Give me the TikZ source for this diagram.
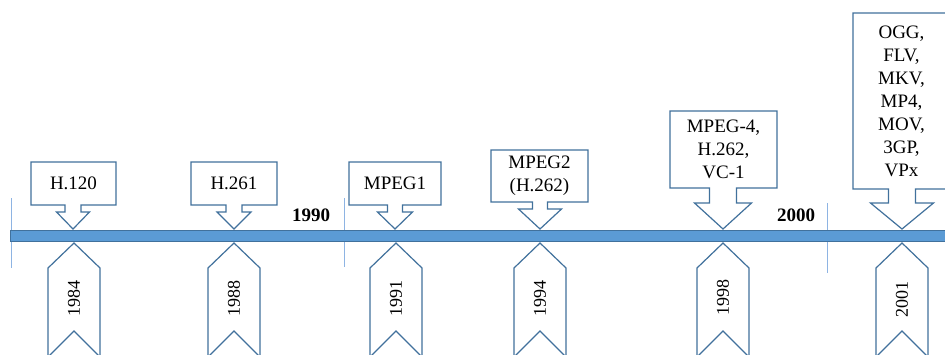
\documentclass[tikz,border=0pt]{standalone}
\usepackage{fontspec}
\setmainfont{Liberation Serif}
\definecolor{edgeblue}{HTML}{41719C}
\definecolor{barblue}{HTML}{5B9BD5}
\definecolor{tickblue}{HTML}{8EB4E3}
% callout: #1 cx, #2 left, #3 right, #4 top, #5 box bottom, #6 stem half, #7 head half, #8 stem bottom
\newcommand\downcallout[8]{%
  \draw[shapeline] (#2,#4) -- (#3,#4) -- (#3,#5) -- ({#1+#6},#5) -- ({#1+#6},#8) -- ({#1+#7},#8)
    -- (#1,229) -- ({#1-#7},#8) -- ({#1-#6},#8) -- ({#1-#6},#5) -- (#2,#5) -- cycle;}
\newcommand\yearchevron[1]{%
  \draw[shapeline] (#1,243) -- ({#1+26},268) -- ({#1+26},357) -- (#1,331) -- ({#1-26},357) -- ({#1-26},268) -- cycle;}
\begin{document}
\begin{tikzpicture}[x=1pt,y=-1pt,
  shapeline/.style={draw=edgeblue, line width=1.2pt, fill=white, line join=miter},
  lbl/.style={font=\fontsize{19}{23}\selectfont, align=center, inner sep=0pt, text=black},
  yr/.style={font=\fontsize{18}{22}\selectfont, inner sep=0pt, text=black, rotate=90},
  era/.style={font=\fontsize{19}{22}\selectfont\bfseries, inner sep=0pt},
  tick/.style={draw=tickblue, line width=0.8pt}]
\useasboundingbox (0,0) rectangle (945,354);
\clip (0,0) rectangle (945,354);
\fill[white] (0,0) rectangle (945,354);
% era ticks
\coordinate (k1a) at (11,198); \coordinate (k1b) at (11,268);
\coordinate (k2a) at (344,198); \coordinate (k2b) at (344,267);
\coordinate (k3a) at (827,203); \coordinate (k3b) at (827,273);
\draw[tick] (k1a) -- (k1b);
\draw[tick] (k2a) -- (k2b);
\draw[tick] (k3a) -- (k3b);
% axis bar
\draw[draw=edgeblue, fill=barblue, line width=0.8pt] (10,230) rectangle (960,241);
\node[era] (e1990) at (311,215) {1990};
\node[era] (e2000) at (796,215) {2000};
% callouts
\downcallout{73}{31}{116}{162}{205}{8}{16.5}{212}
\node[lbl] (c1) at (73.5,183.5) {H.120};
\downcallout{234}{191}{277}{162}{205}{8}{17}{212}
\node[lbl] (c2) at (234,183.5) {H.261};
\downcallout{395}{349}{441}{162}{205}{7.5}{17.5}{212}
\node[lbl] (c3) at (395,183.5) {MPEG1};
\downcallout{540}{491}{588}{150}{202}{7.5}{21.5}{209}
\node[lbl] (c4) at (539.5,176) {MPEG2\\(H.262)};
\downcallout{723}{670}{777}{111}{188}{13.5}{28.5}{203}
\node[lbl] (c5) at (723.5,149.5) {MPEG-4,\\H.262,\\VC-1};
\downcallout{902}{853}{951}{13}{189}{13.5}{31.5}{203}
\node[lbl] (c6) at (901.5,101) {OGG,\\FLV,\\MKV,\\MP4,\\MOV,\\3GP,\\VPx};
% year chevrons
\yearchevron{74}
\node[yr] (y1) at (74,298) {1984};
\yearchevron{234}
\node[yr] (y2) at (234,298) {1988};
\yearchevron{396}
\node[yr] (y3) at (396,298) {1991};
\yearchevron{540}
\node[yr] (y4) at (540,298) {1994};
\yearchevron{723}
\node[yr] (y5) at (723,297) {1998};
\yearchevron{902}
\node[yr] (y6) at (902,299) {2001};
\end{tikzpicture}
\end{document}
